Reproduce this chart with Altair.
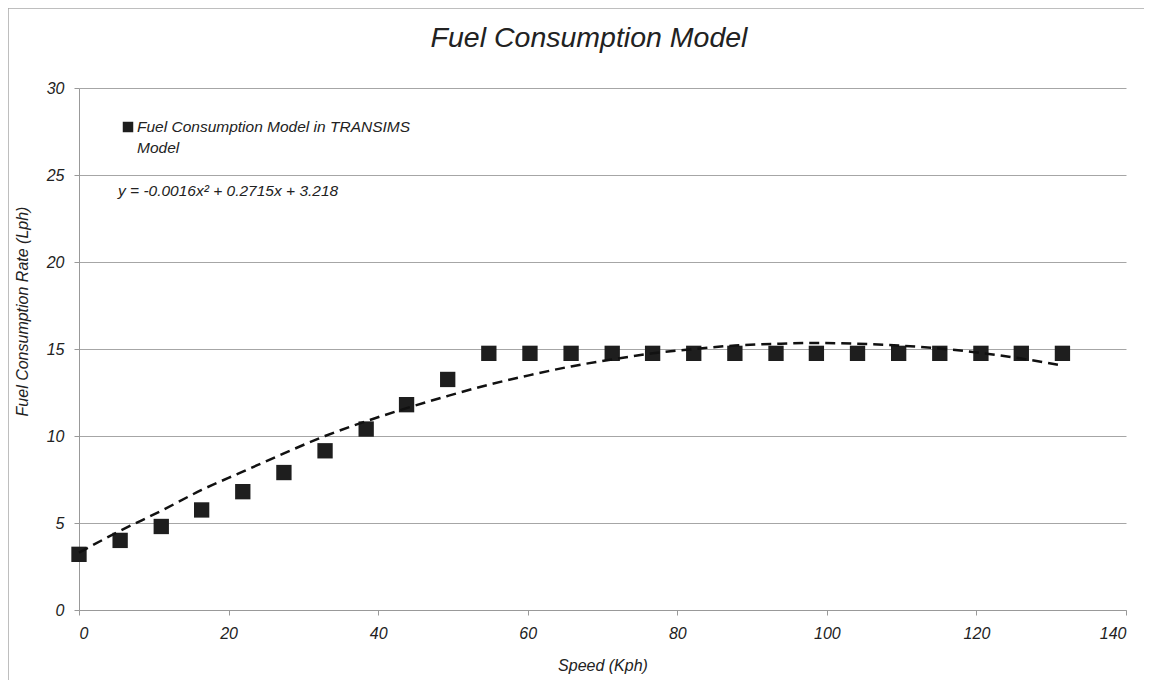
import altair as alt
import pandas as pd

speed = [0, 5.5, 11.0, 16.4, 21.9, 27.4, 32.9, 38.4, 43.8, 49.3, 54.8, 60.3, 65.8,
         71.3, 76.7, 82.2, 87.7, 93.2, 98.6, 104.1, 109.6, 115.1, 120.6, 126.0, 131.5]
fuel = [3.2, 4.0, 4.8, 5.75, 6.8, 7.9, 9.15, 10.4, 11.8, 13.25, 14.75, 14.75, 14.75,
        14.75, 14.75, 14.75, 14.75, 14.75, 14.75, 14.75, 14.75, 14.75, 14.75, 14.75, 14.75]
# dashed polynomial trendline at the same speeds
trend_fuel = [3.3, 4.55, 5.7, 6.9, 7.95, 9.0, 10.0, 10.85, 11.6, 12.3, 12.95, 13.5, 14.0,
              14.4, 14.75, 15.0, 15.2, 15.3, 15.35, 15.3, 15.2, 15.03, 14.77, 14.45, 14.05]
x_ticks = [0, 20, 40, 60, 80, 100, 120, 140]
y_ticks = [0, 5, 10, 15, 20, 25, 30]
legend_label = "Fuel Consumption Model in TRANSIMS\nModel"
equation = "y = -0.0016x\u00b2 + 0.2715x + 3.218"
title_text = "Fuel Consumption Model"

FONT = "Liberation Sans"
W, H = 1047, 522

df = pd.DataFrame({"speed": speed, "fuel": fuel})
tdf = pd.DataFrame({"speed": speed, "fuel": trend_fuel})
one = pd.DataFrame({"a": [0]})

xs = alt.Scale(domain=[0, 140], nice=False, zero=False)
ys = alt.Scale(domain=[0, 30], nice=False)

x_axis = alt.Axis(values=x_ticks, grid=False, title="Speed (Kph)", tickSize=5,
                  labelPadding=10, titleY=60, titleBaseline="alphabetic")
y_axis = alt.Axis(values=y_ticks, grid=True, title="Fuel Consumption Rate (Lph)",
                  tickSize=5, labelPadding=10, titleX=-57, titleY=223,
                  titleAngle=-90, titleAlign="center", titleBaseline="middle")

points = alt.Chart(df).mark_square(size=235, color="#1e1e1e", opacity=1).encode(
    x=alt.X("speed:Q", scale=xs, axis=x_axis),
    y=alt.Y("fuel:Q", scale=ys, axis=y_axis),
)

trend = alt.Chart(tdf).mark_line(color="#111111", strokeWidth=2.5, strokeDash=[10, 6],
                                 interpolate="monotone").encode(
    x=alt.X("speed:Q", scale=xs),
    y=alt.Y("fuel:Q", scale=ys),
)

border_left = alt.Chart(one).mark_rule(color="#a8a8a8", strokeWidth=1.5).encode(
    x=alt.value(-71), y=alt.value(-80), y2=alt.value(700))
border_top = alt.Chart(one).mark_rule(color="#a8a8a8", strokeWidth=1.5).encode(
    x=alt.value(-71), x2=alt.value(1200), y=alt.value(-80))

title = alt.Chart(one).mark_text(
    align="center", baseline="alphabetic", font=FONT, fontStyle="italic", fontSize=28.5,
    color="#222222",
).encode(x=alt.value(510), y=alt.value(-41), text=alt.value(title_text))

leg_sq = alt.Chart(one).mark_square(size=110, color="#1e1e1e", opacity=1).encode(
    x=alt.value(49), y=alt.value(39))
leg_txt = alt.Chart(one).mark_text(
    align="left", baseline="alphabetic", font=FONT, fontStyle="italic", fontSize=15.5,
    color="#222222", lineBreak="\n", lineHeight=21,
).encode(x=alt.value(58), y=alt.value(44), text=alt.value(legend_label))
eq_txt = alt.Chart(one).mark_text(
    align="left", baseline="alphabetic", font=FONT, fontStyle="italic", fontSize=15.5,
    color="#222222",
).encode(x=alt.value(39), y=alt.value(108), text=alt.value(equation))

chart = alt.layer(border_left, border_top, points, trend, title, leg_sq, leg_txt, eq_txt).properties(
    width=W, height=H,
    padding={"left": 71, "top": 80, "right": 18, "bottom": 70},
    autosize=alt.AutoSizeParams(type="none"),
    background="white",
).configure_view(stroke=None).configure_axis(
    labelFont=FONT, labelFontSize=16, labelFontStyle="italic", labelColor="#222222",
    titleFont=FONT, titleFontSize=16, titleFontStyle="italic", titleFontWeight="normal",
    titleColor="#222222", domainColor="#999999", tickColor="#999999",
    gridColor="#a6a6a6", gridWidth=1,
)

chart.save("out.html", embed_options={"renderer": "svg", "actions": False})
